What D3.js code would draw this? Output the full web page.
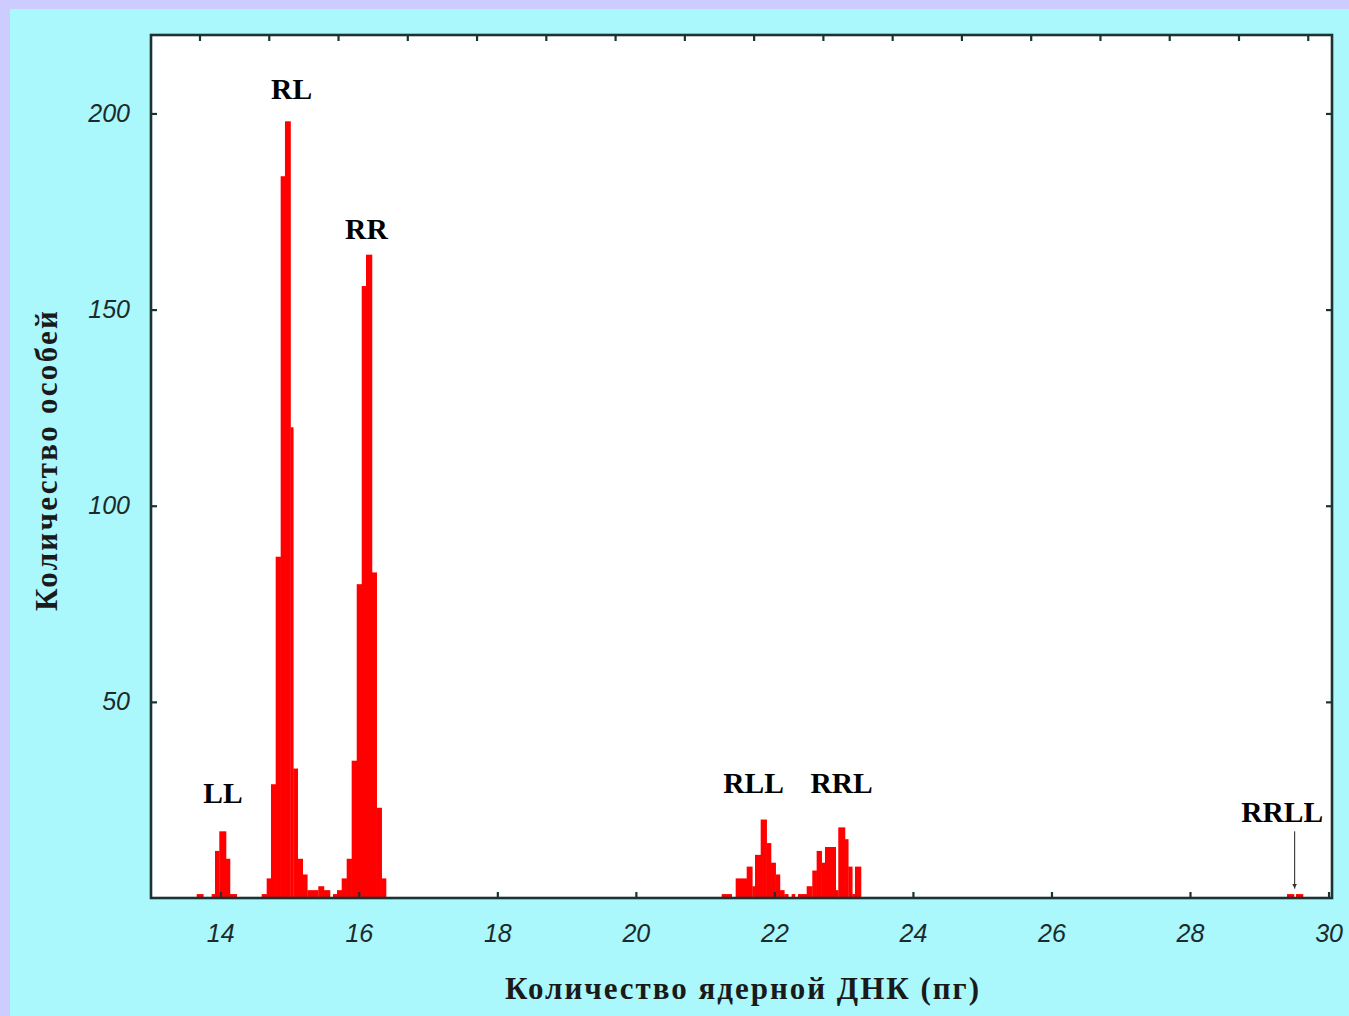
<!DOCTYPE html>
<html><head><meta charset="utf-8">
<script src="https://cdn.jsdelivr.net/npm/d3@7"></script>
<style>
html,body{margin:0;padding:0;background:#ccccff;overflow:hidden;}
svg{display:block;}
</style></head><body>
<svg id="chart" width="1349" height="1016"></svg>
<script>
// ---------- DATA ----------
const xTickValues = [14, 16, 18, 20, 22, 24, 26, 28, 30];
const topTickValues = [13.7, 14.7, 15.7, 16.7, 17.7, 18.7, 19.7, 20.7, 21.7, 22.7, 23.7, 24.7, 25.7, 26.7, 27.7, 28.7, 29.7];
const yTickValues = [50, 100, 150, 200];
const peakNames = ["LL", "RL", "RR", "RLL", "RRL", "RRLL"];
const xTitle = "Количество ядерной ДНК (пг)";
const yTitle = "Количество особей";

// histogram bin edges (pg) and counts per peak
const llEdges = [13.660, 13.755, 13.876, 13.924, 13.986, 14.083, 14.140, 14.237];
const llCounts = [1, 0, 1, 12, 17, 10, 1];

const rlEdges = [14.598, 14.670, 14.732, 14.800, 14.872, 14.934, 15.014, 15.054, 15.118, 15.190, 15.256, 15.415, 15.497, 15.584];
const rlCounts = [1, 5, 29, 87, 184, 198, 120, 33, 10, 6, 2, 3, 2];

const rrEdges = [15.627, 15.685, 15.753, 15.825, 15.897, 15.970, 16.042, 16.104, 16.190, 16.258, 16.330, 16.393];
const rrCounts = [1, 2, 5, 10, 35, 80, 156, 164, 83, 23, 5];

const rllEdges = [21.239, 21.383, 21.441, 21.600, 21.681, 21.720, 21.802, 21.888, 21.951, 22.018, 22.080, 22.143, 22.200, 22.249, 22.297];
const rllCounts = [1, 0, 5, 8, 3, 11, 20, 14, 9, 6, 2, 1, 0, 1];

const rrlEdges = [22.340, 22.466, 22.547, 22.610, 22.682, 22.730, 22.885, 22.922, 23.019, 23.066, 23.124, 23.163, 23.250];
const rrlCounts = [1, 3, 7, 12, 9, 13, 2, 18, 15, 8, 1, 8];

const rrllEdges = [29.400, 29.501, 29.530, 29.631];
const rrllCounts = [1, 0, 1];

// ---------- LAYOUT ----------
const W = 1349, H = 1016;
const plot = {left: 151, top: 35, right: 1332, bottom: 898};
const frameColor = "#1c3333";
const svg = d3.select("#chart");

svg.append("rect").attr("x", 10).attr("y", 9).attr("width", W - 10).attr("height", H - 9).attr("fill", "#aaf7fc");

const x = d3.scaleLinear().domain([13, 30.05]).range([plot.left, plot.right]);
const y = d3.scaleLinear().domain([0, 220]).range([plot.bottom, plot.top]);

svg.append("rect").attr("x", plot.left).attr("y", plot.top)
  .attr("width", plot.right - plot.left).attr("height", plot.bottom - plot.top).attr("fill", "#ffffff");

const peaks = [
  {edges: llEdges, counts: llCounts},
  {edges: rlEdges, counts: rlCounts},
  {edges: rrEdges, counts: rrCounts},
  {edges: rllEdges, counts: rllCounts},
  {edges: rrlEdges, counts: rrlCounts},
  {edges: rrllEdges, counts: rrllCounts}
];
const bins = [];
peaks.forEach(p => p.counts.forEach((c, i) => { if (c > 0) bins.push({x0: p.edges[i], x1: p.edges[i + 1], c}); }));

svg.append("g").selectAll("rect").data(bins).join("rect")
  .attr("x", d => x(d.x0))
  .attr("width", d => x(d.x1) - x(d.x0) + 0.3)
  .attr("y", d => y(d.c))
  .attr("height", d => y(0) - y(d.c))
  .attr("fill", "#ff0000");

// axes
const tickFont = "'Liberation Sans', Arial, sans-serif";
function styleAxis(g) {
  g.select(".domain").remove();
  g.selectAll(".tick line").attr("stroke", frameColor).attr("stroke-width", 2.2);
  g.selectAll(".tick text").attr("fill", "#1b2b2b").attr("font-family", tickFont)
    .attr("font-style", "italic").attr("font-size", 25);
}
svg.append("g").attr("transform", `translate(0,${plot.bottom})`)
  .call(d3.axisBottom(x).tickValues(xTickValues).tickSizeInner(-6).tickSizeOuter(0).tickPadding(26).tickFormat(d3.format("d")))
  .call(styleAxis);
svg.append("g").attr("transform", `translate(${plot.left},0)`)
  .call(d3.axisLeft(y).tickValues(yTickValues).tickSizeInner(-6).tickSizeOuter(0).tickPadding(21).tickFormat(d3.format("d")))
  .call(styleAxis);
svg.append("g").attr("transform", `translate(0,${plot.top})`)
  .call(d3.axisTop(x).tickValues(topTickValues).tickSizeInner(-6).tickSizeOuter(0).tickFormat(""))
  .call(styleAxis);
svg.append("g").attr("transform", `translate(${plot.right},0)`)
  .call(d3.axisRight(y).tickValues(yTickValues).tickSizeInner(-6).tickSizeOuter(0).tickFormat(""))
  .call(styleAxis);

// frame
svg.append("rect").attr("x", plot.left).attr("y", plot.top)
  .attr("width", plot.right - plot.left).attr("height", plot.bottom - plot.top)
  .attr("fill", "none").attr("stroke", frameColor).attr("stroke-width", 2.6);

// peak labels (anchors in data coordinates)
const labelAnchors = [[14.04, 24.3], [15.03, 203.6], [16.11, 168.0], [21.70, 26.8], [22.97, 26.8], [29.33, 19.4]];
const serif = "'Liberation Serif', 'Times New Roman', serif";
svg.append("g").selectAll("text").data(peakNames).join("text")
  .attr("x", (d, i) => x(labelAnchors[i][0]))
  .attr("y", (d, i) => y(labelAnchors[i][1]))
  .attr("text-anchor", "middle")
  .attr("font-family", serif).attr("font-weight", "bold").attr("font-size", 29.5).attr("fill", "#000")
  .text(d => d);

// arrow to RRLL
const defs = svg.append("defs");
defs.append("marker").attr("id", "arr").attr("viewBox", "0 0 10 10").attr("refX", 10).attr("refY", 5)
  .attr("markerWidth", 5).attr("markerHeight", 7).attr("markerUnits", "userSpaceOnUse").attr("orient", "auto")
  .append("path").attr("d", "M0,0 L10,5 L0,10 Z").attr("fill", "#333");
svg.append("line").attr("x1", x(29.51)).attr("x2", x(29.51)).attr("y1", y(17)).attr("y2", y(2.4))
  .attr("stroke", "#444").attr("stroke-width", 1.2).attr("marker-end", "url(#arr)");

// axis titles
svg.append("text").attr("x", 742).attr("y", 999).attr("text-anchor", "middle")
  .attr("font-family", serif).attr("font-weight", "bold").attr("font-size", 31).attr("fill", "#1a1a1a")
  .attr("textLength", 474).attr("lengthAdjust", "spacing")
  .text(xTitle);
svg.append("text").attr("transform", "translate(57,461) rotate(-90)").attr("text-anchor", "middle")
  .attr("font-family", serif).attr("font-weight", "bold").attr("font-size", 31).attr("fill", "#1a1a1a")
  .attr("textLength", 300).attr("lengthAdjust", "spacing")
  .text(yTitle);
</script>
</body></html>
